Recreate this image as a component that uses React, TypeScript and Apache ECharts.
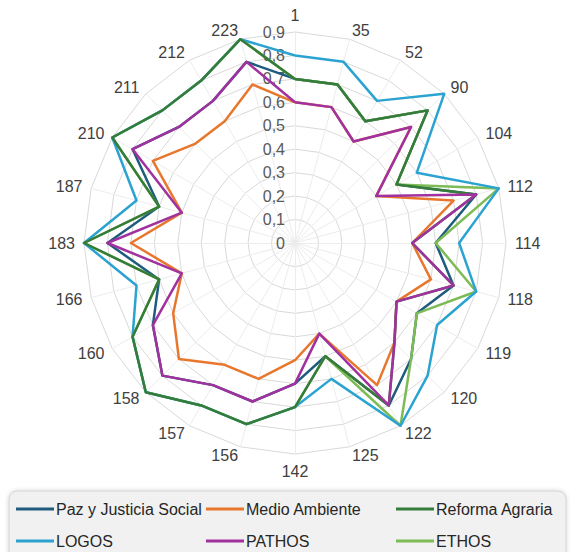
import React, { useEffect, useRef } from "react";
import * as echarts from "echarts";

// Categories in clockwise order, starting at the top
const categories = ["1", "35", "52", "90", "104", "112", "114", "118", "119", "120", "122", "125", "142", "156", "157", "158", "160", "166", "183", "187", "210", "211", "212", "223"];

const pazValues = [0.7, 0.7, 0.6, 0.8, 0.5, 0.8, 0.6, 0.7, 0.6, 0.7, 0.8, 0.5, 0.6, 0.7, 0.7, 0.8, 0.7, 0.6, 0.8, 0.6, 0.8, 0.7, 0.7, 0.8];
const medioValues = [0.6, 0.6, 0.5, 0.7, 0.4, 0.7, 0.5, 0.6, 0.5, 0.6, 0.7, 0.4, 0.5, 0.6, 0.6, 0.7, 0.6, 0.5, 0.7, 0.5, 0.7, 0.6, 0.6, 0.7];
const reformaValues = [0.7, 0.7, 0.6, 0.8, 0.5, 0.8, 0.5, 0.7, 0.5, 0.6, 0.8, 0.5, 0.7, 0.8, 0.8, 0.9, 0.8, 0.6, 0.9, 0.6, 0.9, 0.8, 0.8, 0.9];
const logosValues = [0.8, 0.8, 0.7, 0.9, 0.6, 0.9, 0.7, 0.8, 0.7, 0.8, 0.9, 0.6, 0.7, 0.8, 0.8, 0.9, 0.8, 0.7, 0.9, 0.7, 0.9, 0.8, 0.8, 0.9];
const pathosValues = [0.6, 0.6, 0.5, 0.7, 0.4, 0.8, 0.5, 0.7, 0.5, 0.6, 0.8, 0.4, 0.6, 0.7, 0.7, 0.8, 0.7, 0.5, 0.8, 0.5, 0.8, 0.7, 0.7, 0.8];
const ethosValues = [0.7, 0.7, 0.6, 0.8, 0.5, 0.9, 0.6, 0.8, 0.6, 0.7, 0.9, 0.5, 0.7, 0.8, 0.8, 0.9, 0.8, 0.6, 0.9, 0.6, 0.9, 0.8, 0.8, 0.9];

const valueMax = 0.9;
const valueStep = 0.1;

const seriesNames = ["Paz y Justicia Social", "Medio Ambiente", "Reforma Agraria", "LOGOS", "PATHOS", "ETHOS"];
const seriesColors = ["#1f5b7d", "#e8772e", "#367c39", "#2aa3d0", "#a0319e", "#7dbb55"];

// ECharts radar lays indicators out counter-clockwise: reverse (keeping the first on top)
const toCcw = (arr: any[]) => [arr[0], ...arr.slice(1).reverse()];

export default function App() {
  const ref = useRef<HTMLDivElement>(null);

  useEffect(() => {
    if (!ref.current) return;
    const chart = echarts.init(ref.current, undefined, { renderer: "svg" });
    const valuesByName: Record<string, number[]> = {
      "Paz y Justicia Social": pazValues,
      "Medio Ambiente": medioValues,
      "Reforma Agraria": reformaValues,
      LOGOS: logosValues,
      PATHOS: pathosValues,
      ETHOS: ethosValues,
    };
    const drawOrder = ["Paz y Justicia Social", "Medio Ambiente", "ETHOS", "LOGOS", "Reforma Agraria", "PATHOS"];
    const center = [295, 243];
    const radius = 211;
    const fontFamily = "'Liberation Sans', Arial, sans-serif";

    const legendCommon = {
      orient: "vertical",
      top: 500,
      height: 52,
      padding: 0,
      icon: "rect",
      itemWidth: 38,
      itemHeight: 3,
      itemGap: 14,
      selectedMode: false,
      textStyle: { fontFamily, fontSize: 16, color: "#262626", lineHeight: 18, padding: [0, 0, 0, -3] },
    };

    chart.setOption({
      animation: false,
      backgroundColor: "#ffffff",
      graphic: [
        {
          type: "rect",
          z: 0,
          shape: { x: 9, y: 491, width: 557, height: 72, r: 8 },
          style: { fill: "#f1f1f1", stroke: "#d4d4d4", lineWidth: 1, shadowBlur: 4, shadowColor: "rgba(0,0,0,0.18)" },
        },
      ],
      legend: [
        { ...legendCommon, left: 16, data: [seriesNames[0], seriesNames[3]] },
        { ...legendCommon, left: 206, data: [seriesNames[1], seriesNames[4]] },
        { ...legendCommon, left: 396, data: [seriesNames[2], seriesNames[5]] },
      ],
      radar: {
        center,
        radius,
        startAngle: 90,
        splitNumber: Math.round(valueMax / valueStep),
        shape: "polygon",
        indicator: toCcw(categories).map((c) => ({ name: c, min: 0, max: valueMax })),
        axisName: { color: "#404040", fontSize: 16, fontFamily },
        axisNameGap: 9,
        splitLine: { lineStyle: { color: "#d9d9d9", width: 1 } },
        splitArea: { show: false },
        axisLine: { lineStyle: { color: "#ececec", width: 1 } },
        axisTick: { show: false },
        axisLabel: { show: false },
      },
      polar: { center, radius },
      angleAxis: { show: false, startAngle: 90, min: 0, max: 360 },
      radiusAxis: {
        min: 0,
        max: valueMax,
        interval: valueStep,
        axisLine: { show: false },
        axisTick: { show: false },
        splitLine: { show: false },
        axisLabel: {
          show: true,
          color: "#595959",
          fontSize: 16,
          fontFamily,
          margin: 10,
          formatter: (v: number) => (v === 0 ? "0" : v.toFixed(1).replace(".", ",")),
        },
      },
      series: drawOrder.map((name) => {
        const idx = seriesNames.indexOf(name);
        return {
          type: "radar",
          name,
          symbol: "none",
          itemStyle: { color: seriesColors[idx] },
          lineStyle: { color: seriesColors[idx], width: 2.5 },
          data: [{ name, value: toCcw(valuesByName[name]) }],
        };
      }),
    });
    return () => chart.dispose();
  }, []);

  return <div ref={ref} style={{ position: "fixed", left: 0, top: 0, width: 573, height: 552 }} />;
}
